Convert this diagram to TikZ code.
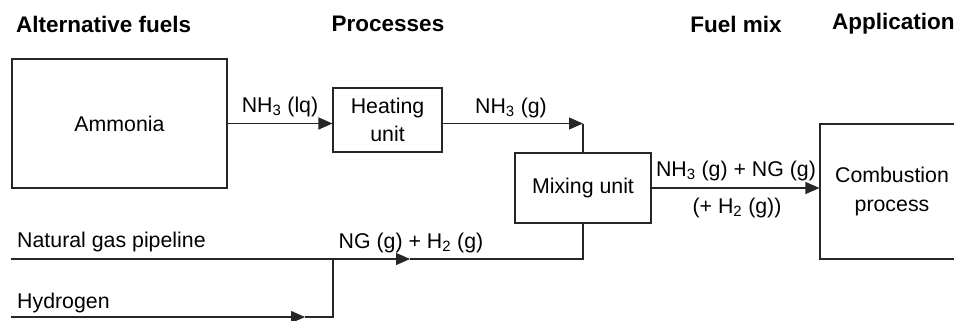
\documentclass[tikz,border=0pt]{standalone}
\usepackage{fontspec}
\setmainfont{Liberation Sans}
\usetikzlibrary{arrows.meta,positioning}
\newcommand{\flowfont}{\fontsize{18.2}{24}\selectfont}
\newcommand{\headfont}{\fontsize{19.2}{24}\selectfont\bfseries}

\begin{document}
\begin{tikzpicture}[
    unitbox/.style={rectangle, draw=black!85, line width=0.9pt, inner sep=0pt,
      align=center, font=\flowfont},
    flowlabel/.style={inner sep=0pt, font=\flowfont},
    headlabel/.style={inner sep=0pt, font=\headfont},
    pipe/.style={draw=black!85, line width=0.9pt},
    arr/.style={-{Triangle[length=0.42cm, width=0.36cm]}, line width=0.9pt, draw=black!85}
  ]
    \useasboundingbox (0,0) rectangle (28.62,9.6);

    % Title labels
    \node[headlabel, anchor=west] (tfuels) at (0.48, 8.88) {Alternative fuels};
    \node[headlabel] (tproc) at (11.64, 8.88) {Processes};
    \node[headlabel] (tmix) at (22.08, 8.88) {Fuel mix};
    \node[headlabel, anchor=west] (tapp) at (24.96, 8.88) {Application};

    % Units
    \node[unitbox, minimum width=6.45cm, minimum height=3.87cm] (ammonia) at (3.585, 5.895) {Ammonia};
    \node[unitbox, minimum width=3.27cm, minimum height=1.92cm] (heating) at (11.625, 6.0) {Heating\\unit};
    \node[unitbox, minimum width=4.08cm, minimum height=2.1cm] (mixing) at (17.49, 3.96) {Mixing unit};
    \node[unitbox, minimum width=4.32cm, minimum height=4.05cm] (combustion) at (26.76, 3.855) {Combustion\\process};

    % Gas lines
    \coordinate (ngstart) at (0.33, 1.83);
    \coordinate (ngtip) at (12.3, 1.83);
    \coordinate (join) at (9.99, 1.83);
    \coordinate (h2start) at (0.33, 0.09);
    \coordinate (h2tip) at (9.15, 0.09);

    \node[flowlabel, anchor=west] (ngname) at (0.51, 2.34) {Natural gas pipeline};
    \node[flowlabel, anchor=west] (h2name) at (0.51, 0.51) {Hydrogen};

    % Arrows
    \draw[arr] (ammonia.east) -- (ammonia.east -| heating.west);
    \draw[arr] (heating.east |- ammonia.east) -- (mixing.north |- ammonia.east);
    \draw[pipe] (mixing.north |- ammonia.east) -- (mixing.north);
    \draw[arr] (ngstart) -- (ngtip);
    \draw[pipe] (ngtip) -- (mixing.south |- ngtip) -- (mixing.south);
    \draw[arr] (h2start) -- (h2tip);
    \draw[pipe] (h2tip) -- (h2start -| join) -- (join);
    \draw[arr] (mixing.east) -- (mixing.east -| combustion.west);

    % Flow labels
    \node[flowlabel] (lqlabel) at (8.4, 6.39) {NH\textsubscript{3} (lq)};
    \node[flowlabel] (glabel) at (15.33, 6.36) {NH\textsubscript{3} (g)};
    \node[flowlabel] (nglabel) at (12.33, 2.31) {NG (g) + H\textsubscript{2} (g)};
    \node[flowlabel] (mixlabel) at (22.08, 4.47) {NH\textsubscript{3} (g) + NG (g)};
    \node[flowlabel] (h2label) at (22.11, 3.36) {(+ H\textsubscript{2} (g))};
  \end{tikzpicture}
\end{document}
